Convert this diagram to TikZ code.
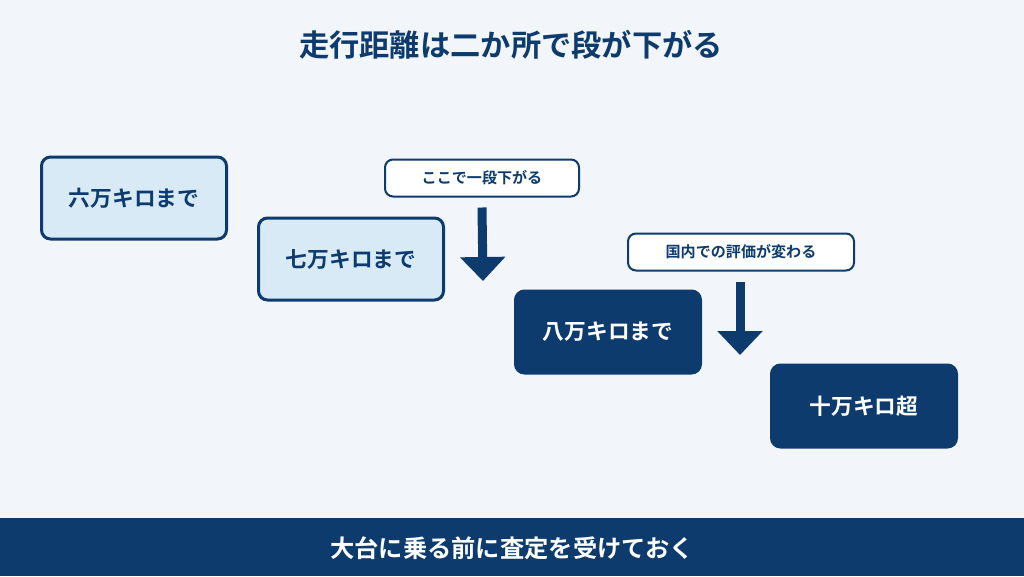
\documentclass[tikz,border=0pt]{standalone}
\usepackage{fontspec}
\newfontfamily\jpfont{Noto Sans CJK JP}[BoldFont={* Bold}]
\usetikzlibrary{arrows.meta,positioning}
\definecolor{navy}{HTML}{0D3B6E}
\definecolor{pale}{HTML}{D9EAF7}
\definecolor{backg}{HTML}{F2F5F9}
\tikzset{
  stage/.style={rectangle, draw=navy, line width=2.25pt, rounded corners=6.75pt, fill=pale,
    text=navy, minimum width=138.75pt, minimum height=61.5pt, font=\jpfont\bfseries\fontsize{16.3}{19}\selectfont},
  stagedark/.style={stage, fill=navy, text=white},
  callout/.style={rectangle, draw=navy, line width=1.5pt, rounded corners=6pt, fill=white,
    text=navy, minimum height=27.75pt, font=\jpfont\bfseries\fontsize{11.3}{13}\selectfont},
  drop/.style={navy, line width=6.75pt, -{Triangle[width=33pt,length=18pt]}}
}
\begin{document}
\begin{tikzpicture}[x=0.75pt, y=-0.75pt]
			
			%Background
			\fill[backg] (0,0) rectangle (1024,576);
			\useasboundingbox (0,0) rectangle (1024,576);
			\fill[navy] (0,518) rectangle (1024,576);
			
			%Texts
			\node (title) at (511,45) [text=navy, font=\jpfont\bfseries\fontsize{22.7}{26}\selectfont] {走行距離は二か所で段が下がる};
			\node (footer) at (512,548) [text=white, font=\jpfont\bfseries\fontsize{18.2}{22}\selectfont] {大台に乗る前に査定を受けておく};
			
			%Blocks
			\node (sixty) at (134,198) [stage] {六万キロまで};
			\node (seventy) at (351,259) [stage] {七万キロまで};
			\node (eighty) at (608,332) [stagedark] {八万キロまで};
			\node (hundred) at (864,406) [stagedark] {十万キロ超};
			\node (dropOne) at (482,178) [callout, minimum width=145.5pt] {ここで一段下がる};
			\node (dropTwo) at (741,252) [callout, minimum width=169.5pt] {国内での評価が変わる};
			
			%Arrows
			\coordinate (endOne) at (483,281);
			\coordinate (endTwo) at (740,355);
			\draw [drop] ([yshift=-7.5pt]dropOne.south) -- (endOne);
			\draw [drop] ([yshift=-7.5pt]dropTwo.south -| endTwo) -- (endTwo);
			
\end{tikzpicture}
\end{document}
